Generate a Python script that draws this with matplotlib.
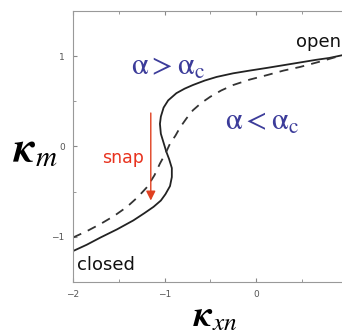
import matplotlib
matplotlib.use("Agg")
import matplotlib.pyplot as plt

# solid curve (alpha > alpha_c)
solid_x = [-2.0, -1.85, -1.70, -1.52, -1.34, -1.22, -1.12, -1.04, -0.99, -0.94, -0.92, -0.92,
           -0.95, -0.98, -1.01, -1.04, -1.05, -1.04, -1.01, -0.96, -0.87, -0.78, -0.69,
           -0.56, -0.43, -0.25, -0.07, 0.12, 0.30, 0.48, 0.66, 0.80, 0.94]
solid_y = [-1.16, -1.09, -1.01, -0.92, -0.82, -0.74, -0.67, -0.60, -0.53, -0.44, -0.34, -0.24,
           -0.14, -0.06, 0.04, 0.14, 0.25, 0.33, 0.43, 0.51, 0.59, 0.64, 0.68,
           0.73, 0.77, 0.81, 0.84, 0.87, 0.90, 0.93, 0.96, 0.98, 1.01]

# dashed curve (alpha < alpha_c)
dash_x = [-2.0, -1.85, -1.70, -1.55, -1.41, -1.29, -1.19, -1.11, -1.05, -0.99, -0.94, -0.88,
          -0.83, -0.76, -0.69, -0.60, -0.50, -0.38, -0.25, -0.07, 0.12, 0.30, 0.48, 0.70, 0.94]
dash_y = [-1.01, -0.94, -0.86, -0.77, -0.67, -0.56, -0.45, -0.32, -0.19, -0.08, 0.03, 0.12,
          0.21, 0.31, 0.40, 0.48, 0.55, 0.62, 0.68, 0.74, 0.79, 0.84, 0.88, 0.94, 1.01]

x_ticks = [-2, -1, 0]
y_ticks = [-1, 0, 1]

plt.rcParams['mathtext.fontset'] = 'stix'

fig = plt.figure(figsize=(3.42, 3.35), dpi=100)
ax = fig.add_axes([0.2135, 0.159, 0.8026, 0.808])

ax.plot(solid_x, solid_y, color='#222222', lw=1.3)
ax.plot(dash_x, dash_y, color='#333333', lw=1.3, ls=(0, (5, 4)))

ax.annotate('', xy=(-1.15, -0.60), xytext=(-1.15, 0.37),
            arrowprops=dict(arrowstyle='-|>', color='#e04020', lw=1.0,
                            mutation_scale=14, shrinkA=0, shrinkB=0))

ax.set_xlim(-2, 1)
ax.set_ylim(-1.5, 1.5)
ax.set_xticks(x_ticks)
ax.set_yticks(y_ticks)
ax.set_xticks([-1.5, -0.5, 0.5], minor=True)
ax.set_yticks([-0.5, 0.5], minor=True)
ax.tick_params(which='both', direction='in', top=True, right=True,
               colors='#888888', labelcolor='#555555', labelsize=6.5, pad=6)
ax.tick_params(which='major', length=3)
ax.tick_params(which='minor', length=2)
for s in ax.spines.values():
    s.set_color('#999999')
    s.set_linewidth(0.8)

ax.text(0.93, 1.16, 'open', ha='right', va='center', fontsize=13, color='#111111')
ax.text(-1.96, -1.31, 'closed', ha='left', va='center', fontsize=13, color='#111111')
ax.text(-1.23, -0.13, 'snap', ha='right', va='center', fontsize=12.5, color='#e8321e')
ax.text(-0.96, 0.89, r'$\mathrm{\alpha} > \mathrm{\alpha}_{\mathrm{c}}$', ha='center', va='center',
        fontsize=22, color='#3c3c9a')
ax.text(0.07, 0.28, r'$\mathrm{\alpha} < \mathrm{\alpha}_{\mathrm{c}}$', ha='center', va='center',
        fontsize=22, color='#3c3c9a')

fig.text(0.105, 0.555, r'$\mathbfit{\kappa}_{m}$', ha='center', va='center', fontsize=30,
         color='black')
fig.text(0.63, 0.055, r'$\mathbfit{\kappa}_{xn}$', ha='center', va='center', fontsize=26,
         color='black')

fig.savefig('out.png', dpi=100)
